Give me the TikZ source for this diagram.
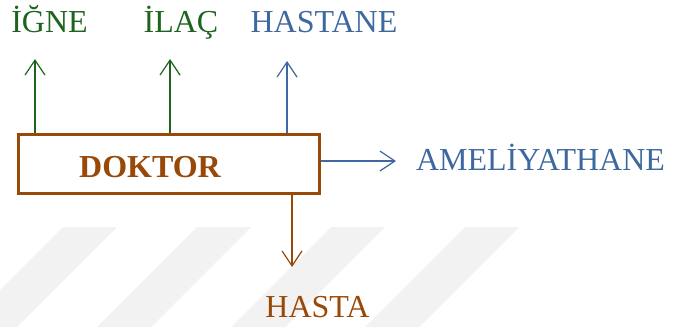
\documentclass[tikz,border=0pt]{standalone}
\usepackage{fontspec}
\setmainfont{Liberation Serif}
\usetikzlibrary{arrows.meta}
\definecolor{yesil}{RGB}{30,100,30}
\definecolor{mavi}{RGB}{62,104,160}
\definecolor{kahve}{RGB}{152,72,7}
\tikzset{
	etiket/.style={anchor=base,inner sep=0pt,font=\fontsize{32}{38}\selectfont},
	kutu/.style={draw=kahve,line width=3pt,minimum width=301pt,minimum height=59pt,inner sep=0pt},
	ok/.style={->,line width=1.2pt}
}
\begin{document}
\begin{tikzpicture}[x=1pt,y=-1pt,>={Straight Barb[length=15pt,width=20pt]}]
	\useasboundingbox (0,0) rectangle (677,327);
	
	% silik arka plan seritleri
	\foreach \i in {0,1,2,3}
		\fill[black!5] (63+\i*134,227) -- (117+\i*134,227) -- (17+\i*134,327) -- (-37+\i*134,327) -- cycle;
	
	\node[kutu] (doktor) at (169,164) {};
	\node[etiket,text=kahve,font=\fontsize{32}{38}\selectfont\bfseries] (doktorad) at (150,177) {DOKTOR};
	
	\node[etiket,text=yesil] (igne) at (49.5,32) {İĞNE};
	\node[etiket,text=yesil] (ilac) at (181,32) {İLAÇ};
	\node[etiket,text=mavi] (hastane) at (324,32) {HASTANE};
	\node[etiket,text=mavi] (ameliyathane) at (540.5,170) {AMELİYATHANE};
	\node[etiket,text=kahve] (hasta) at (317.5,317) {HASTA};
	
	\coordinate (ucigne) at (35,59);
	\coordinate (ucilac) at (170,59);
	\coordinate (uchastane) at (287,61);
	\coordinate (ucameliyat) at (396,161);
	\coordinate (uchasta) at (292,267);
	
	\draw[ok,yesil] (doktor.north -| ucigne) -- (ucigne);
	\draw[ok,yesil] (doktor.north -| ucilac) -- (ucilac);
	\draw[ok,mavi] (doktor.north -| uchastane) -- (uchastane);
	\draw[ok,mavi] (doktor.east |- ucameliyat) -- (ucameliyat);
	\draw[ok,kahve] (doktor.south -| uchasta) -- (uchasta);
	
\end{tikzpicture}
\end{document}
